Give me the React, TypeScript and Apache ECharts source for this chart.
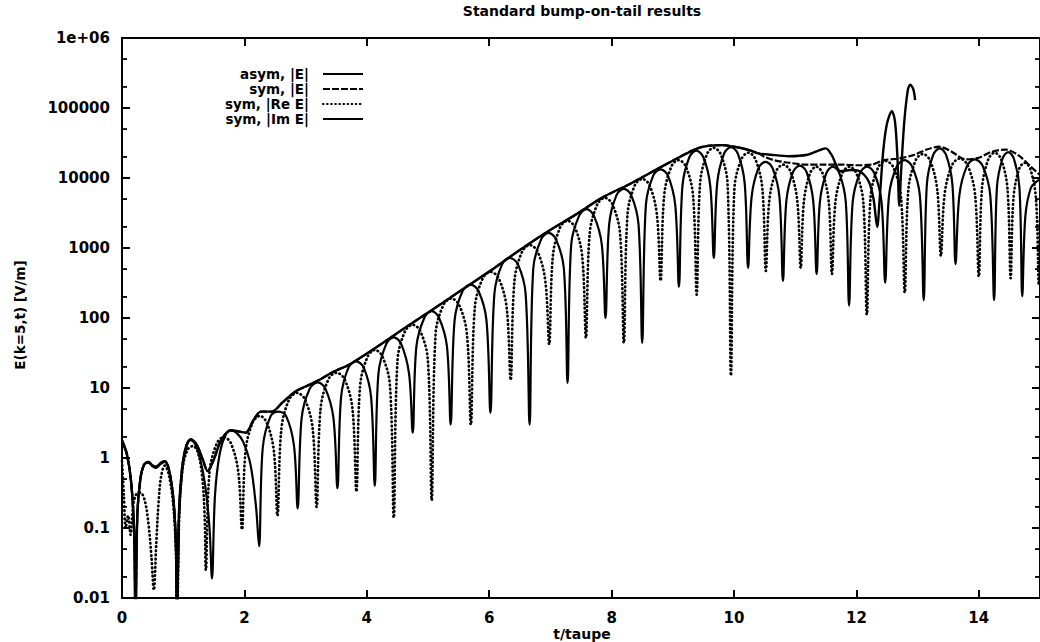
import React, { useEffect, useRef } from 'react';
import * as echarts from 'echarts';

const titleText = 'Standard bump-on-tail results';
const xAxisName = 't/taupe';
const yAxisName = 'E(k=5,t) [V/m]';
const yTickLabels = ['0.01', '0.1', '1', '10', '100', '1000', '10000', '100000', '1e+06'];
const minorTickValues = [0.02, 0.05, 0.2, 0.5, 2, 5, 20, 50, 200, 500, 2000, 5000, 20000, 50000, 200000, 500000];
const legendNames = ['asym, |E|', 'sym, |E|', 'sym, |Re E|', 'sym, |Im E|'];

// |E| common to asym and sym runs up to t ~ 10.4
const envelopeShared: number[][] = [
  [0, 1.8], [0.08, 1.15], [0.15, 0.45], [0.2, 0.08], [0.22, 0.004], [0.25, 0.15], [0.3, 0.5], [0.36, 0.8],
  [0.43, 0.88], [0.5, 0.78], [0.56, 0.75], [0.63, 0.85], [0.7, 0.9], [0.77, 0.67], [0.84, 0.26], [0.88, 0.06],
  [0.9, 0.004], [0.93, 0.15], [0.98, 0.7], [1.05, 1.5], [1.12, 1.85], [1.22, 1.55], [1.32, 0.95], [1.4, 0.65],
  [1.5, 0.95], [1.62, 1.8], [1.78, 2.5], [1.9, 2.4], [2.02, 2.3], [2.15, 3.5], [2.27, 4.6], [2.45, 4.6],
  [2.62, 6.2], [2.84, 9.0], [3.0, 10.5], [3.22, 13], [3.45, 17], [3.71, 21.5], [4.0, 31], [4.31, 47],
  [4.7, 80], [5.07, 131], [5.5, 235], [6.0, 460], [6.43, 850], [6.9, 1600], [7.4, 2950], [7.84, 5200],
  [8.33, 8500], [8.88, 15500], [9.43, 27000], [9.8, 29500], [10.1, 27000], [10.25, 25000], [10.4, 22500],
];

const asymTail: number[][] = [
  [10.6, 21500], [10.9, 20500], [11.2, 21500], [11.4, 25000], [11.5, 26500], [11.6, 21000], [11.74, 12500],
  [11.9, 13000], [12.05, 12500], [12.2, 9000], [12.28, 5000], [12.34, 2000], [12.38, 5000], [12.44, 25000],
  [12.5, 60000], [12.58, 90000], [12.63, 65000], [12.67, 20000], [12.7, 4000], [12.73, 12000], [12.78, 60000],
  [12.84, 180000], [12.88, 215000], [12.93, 185000], [12.96, 130000],
];

const symTail: number[][] = [
  [10.5, 20000], [10.65, 18000], [10.9, 16500], [11.2, 15500], [11.5, 15500], [11.8, 15500], [12.0, 15200],
  [12.25, 15500], [12.45, 18000], [12.7, 19000], [12.95, 21500], [13.15, 25500], [13.35, 28000], [13.55, 24000],
  [13.78, 18500], [14.0, 19500], [14.2, 23500], [14.44, 25500], [14.65, 21000], [14.85, 14500], [15.0, 11000],
];

const imE: number[][] = [
  [0, 1.7], [0.08, 1.1], [0.15, 0.45], [0.2, 0.08], [0.22, 0.004], [0.25, 0.15], [0.3, 0.5], [0.36, 0.8],
  [0.43, 0.86], [0.5, 0.76], [0.56, 0.72], [0.63, 0.82], [0.7, 0.88], [0.77, 0.65], [0.84, 0.25], [0.88, 0.06],
  [0.9, 0.004], [0.93, 0.12], [0.98, 0.6], [1.05, 1.4], [1.12, 1.8], [1.2, 1.55], [1.28, 0.95], [1.36, 0.4],
  [1.43, 0.1], [1.47, 0.019],
  [1.52, 0.3], [1.6, 1.2], [1.7, 2.2], [1.78, 2.45], [1.88, 2.25], [1.98, 1.7], [2.1, 0.8], [2.19, 0.2], [2.24, 0.055],
  [2.3, 1.4], [2.43, 4.0], [2.55, 4.6], [2.68, 4.0], [2.81, 1.5], [2.87, 0.19],
  [2.935, 3.7], [3.065, 9.7], [3.2, 12], [3.325, 9.7], [3.455, 3.7], [3.52, 0.37],
  [3.58, 7.4], [3.7, 19.5], [3.825, 24], [3.95, 19.5], [4.07, 7.4], [4.13, 0.4],
  [4.19, 16], [4.32, 43], [4.44, 53], [4.56, 43], [4.69, 16], [4.75, 2.3],
  [4.81, 39], [4.94, 101], [5.06, 125], [5.18, 101], [5.31, 39], [5.37, 3.0],
  [5.435, 93], [5.565, 243], [5.695, 300], [5.825, 243], [5.955, 93], [6.02, 4.4],
  [6.085, 223], [6.21, 583], [6.34, 720], [6.47, 583], [6.595, 223], [6.66, 3.0],
  [6.72, 510], [6.85, 1340], [6.97, 1650], [7.09, 1340], [7.22, 510], [7.28, 11.8],
  [7.34, 1120], [7.47, 2900], [7.59, 3600], [7.71, 2900], [7.84, 1120], [7.9, 100],
  [7.96, 2170], [8.08, 5700], [8.2, 7000], [8.32, 5700], [8.44, 2170], [8.5, 44],
  [8.56, 4100], [8.68, 10800], [8.8, 13300], [8.92, 10800], [9.04, 4100], [9.1, 280],
  [9.157, 7600], [9.27, 19800], [9.385, 24500], [9.5, 19800], [9.613, 7600], [9.67, 720],
  [9.726, 8500], [9.838, 22300], [9.95, 27500], [10.062, 22300], [10.174, 8500], [10.23, 520],
  [10.287, 5300], [10.4, 13800], [10.515, 17000], [10.63, 13800], [10.743, 5300], [10.8, 340],
  [10.855, 4650], [10.965, 12200], [11.075, 15000], [11.185, 12200], [11.295, 4650], [11.35, 425],
  [11.403, 4500], [11.509, 11700], [11.615, 14500], [11.721, 11700], [11.827, 4500], [11.88, 150],
  [11.939, 4500], [12.057, 11700], [12.175, 14500], [12.293, 11700], [12.411, 4500], [12.47, 320],
  [12.533, 5600], [12.659, 14600], [12.785, 18000], [12.911, 14600], [13.037, 5600], [13.1, 180],
  [13.152, 8200], [13.256, 21500], [13.36, 26500], [13.464, 21500], [13.568, 8200], [13.62, 590],
  [13.683, 5700], [13.809, 15000], [13.935, 18500], [14.061, 15000], [14.187, 5700], [14.25, 180],
  [14.296, 7300], [14.388, 19000], [14.48, 23500], [14.572, 19000], [14.664, 7300], [14.71, 205],
  [14.76, 2800], [14.85, 7200], [14.95, 9000], [15.0, 9500],
];

const reE: number[][] = [
  [0, 0.9], [0.03, 0.3], [0.06, 0.1], [0.1, 0.15], [0.14, 0.08], [0.18, 0.2], [0.23, 0.3], [0.3, 0.32],
  [0.37, 0.25], [0.43, 0.12], [0.48, 0.04], [0.52, 0.013], [0.56, 0.06], [0.6, 0.25], [0.64, 0.55], [0.7, 0.78],
  [0.76, 0.6], [0.83, 0.25], [0.88, 0.05], [0.9, 0.004], [0.94, 0.2], [1.0, 0.8], [1.08, 1.35], [1.16, 1.48],
  [1.24, 1.2], [1.31, 0.55], [1.35, 0.15], [1.37, 0.025],
  [1.429, 0.62], [1.547, 1.6], [1.665, 2.0], [1.783, 1.6], [1.901, 0.62], [1.96, 0.095],
  [2.018, 1.24], [2.134, 3.2], [2.25, 4.0], [2.366, 3.2], [2.482, 1.24], [2.54, 0.15],
  [2.604, 2.6], [2.732, 6.9], [2.86, 8.5], [2.988, 6.9], [3.116, 2.6], [3.18, 0.2],
  [3.245, 5.1], [3.375, 13.4], [3.505, 16.5], [3.635, 13.4], [3.765, 5.1], [3.83, 0.33],
  [3.891, 10.8], [4.013, 28], [4.135, 35], [4.257, 28], [4.379, 10.8], [4.44, 0.14],
  [4.502, 25], [4.626, 65], [4.75, 80], [4.874, 65], [4.998, 25], [5.06, 0.25],
  [5.124, 59], [5.252, 154], [5.38, 190], [5.508, 154], [5.636, 59], [5.7, 3.0],
  [5.765, 141], [5.895, 370], [6.025, 455], [6.155, 370], [6.285, 141], [6.35, 13],
  [6.413, 340], [6.539, 890], [6.665, 1100], [6.791, 890], [6.917, 340], [6.98, 42],
  [7.04, 760], [7.16, 1980], [7.28, 2450], [7.4, 1980], [7.52, 760], [7.58, 52],
  [7.642, 1610], [7.766, 4200], [7.89, 5200], [8.014, 4200], [8.138, 1610], [8.2, 44],
  [8.26, 3000], [8.38, 7900], [8.5, 9700], [8.62, 7900], [8.74, 3000], [8.8, 340],
  [8.859, 5600], [8.977, 14600], [9.095, 18000], [9.213, 14600], [9.331, 5600], [9.39, 215],
  [9.446, 8400], [9.558, 21900], [9.67, 27000], [9.782, 21900], [9.894, 8400], [9.95, 15],
  [10.007, 7100], [10.121, 18600], [10.235, 23000], [10.349, 18600], [10.463, 7100], [10.52, 470],
  [10.577, 4800], [10.691, 12600], [10.805, 15500], [10.919, 12600], [11.033, 4800], [11.09, 520],
  [11.141, 4500], [11.243, 11700], [11.345, 14500], [11.447, 11700], [11.549, 4500], [11.6, 425],
  [11.657, 4500], [11.771, 11700], [11.885, 14500], [11.999, 11700], [12.113, 4500], [12.17, 112],
  [12.232, 5400], [12.356, 14200], [12.48, 17500], [12.604, 14200], [12.728, 5400], [12.79, 230],
  [12.849, 6800], [12.967, 17800], [13.085, 22000], [13.203, 17800], [13.321, 6800], [13.38, 770],
  [13.442, 5900], [13.566, 15400], [13.69, 19000], [13.814, 15400], [13.938, 5900], [14.0, 390],
  [14.052, 7100], [14.156, 18600], [14.26, 23000], [14.364, 18600], [14.468, 7100], [14.52, 370],
  [14.566, 5100], [14.658, 13400], [14.75, 16500], [14.842, 13400], [14.934, 5100], [14.98, 300], [15.0, 2500],
];

const FONT = '"DejaVu Sans", "Liberation Sans", sans-serif';
const INK = '#000';

const lineStyles: any[] = [
  { type: 'solid', width: 2.4 },
  { type: [7, 2], width: 2.2 },
  { type: [0.5, 3.6], width: 2.7, cap: 'round' },
  { type: 'solid', width: 2.2 },
];

export default function App() {
  const ref = useRef<HTMLDivElement>(null);
  useEffect(() => {
    if (!ref.current) return;
    const chart = echarts.init(ref.current, undefined, { renderer: 'svg' });
    const gridLeft = 122;
    const gridTop = 38;
    const gridW = 919;
    const gridH = 560;

    const legendX = 309;
    const legendY0 = 74;
    const legendDy = 15;
    const legendGraphics: any[] = [];
    legendNames.forEach((name, i) => {
      const y = legendY0 + i * legendDy;
      legendGraphics.push({
        type: 'text', x: legendX, y,
        style: { text: name, font: `bold 13.5px ${FONT}`, fill: INK, align: 'right', verticalAlign: 'middle' },
      });
      const ls = lineStyles[i];
      legendGraphics.push({
        type: 'line',
        shape: { x1: legendX + 14, y1: y, x2: legendX + 54, y2: y },
        style: {
          stroke: INK, lineWidth: Math.min(ls.width, 2.2),
          lineDash: ls.type === 'solid' ? null : ls.type,
          lineCap: ls.cap || 'butt',
        },
      });
    });

    const axisLabelStyle = { color: INK, fontFamily: FONT, fontWeight: 'bold', fontSize: 15 };
    const xAxisBase = {
      type: 'value', min: 0, max: 15, interval: 2,
      splitLine: { show: false },
      axisLine: { show: true, onZero: false, lineStyle: { color: INK, width: 2 } },
      axisTick: { show: true, inside: true, length: 8, lineStyle: { color: INK, width: 2 } },
    };
    const yAxisBase = {
      type: 'log', logBase: 10, min: 0.01, max: 1000000,
      splitLine: { show: false },
      axisLine: { show: true, onZero: false, lineStyle: { color: INK, width: 2 } },
      axisTick: { show: true, inside: true, length: 8, lineStyle: { color: INK, width: 2 } },
    };

    const option: any = {
      animation: false,
      backgroundColor: '#fff',
      grid: { left: gridLeft, top: gridTop, width: gridW, height: gridH, containLabel: false },
      xAxis: [
        {
          ...xAxisBase, position: 'bottom',
          axisLabel: { ...axisLabelStyle, margin: 12, showMaxLabel: false, formatter: (v: number) => String(v) },
        },
        { ...xAxisBase, position: 'top', axisLabel: { show: false } },
      ],
      yAxis: [
        {
          ...yAxisBase, position: 'left',
          axisLabel: {
            ...axisLabelStyle, margin: 12,
            formatter: (v: number) => yTickLabels[Math.round(Math.log10(v)) + 2] ?? '',
          },
        },
        { ...yAxisBase, position: 'right', axisLabel: { show: false } },
      ],
      graphic: [
        {
          type: 'text', x: 582, y: 11,
          style: { text: titleText, font: `bold 14px ${FONT}`, fill: INK, align: 'center', verticalAlign: 'middle' },
        },
        {
          type: 'text', x: 582, y: 634,
          style: { text: xAxisName, font: `bold 14px ${FONT}`, fill: INK, align: 'center', verticalAlign: 'middle' },
        },
        {
          type: 'text', x: 20, y: 315, rotation: Math.PI / 2,
          style: { text: yAxisName, font: `bold 13.5px ${FONT}`, fill: INK, align: 'center', verticalAlign: 'middle' },
        },
        ...legendGraphics,
      ],
      series: [
        {
          name: legendNames[2], type: 'line', data: reE, showSymbol: false, clip: true, silent: true,
          smooth: 0.35, lineStyle: { color: INK, ...lineStyles[2] }, z: 2,
        },
        {
          name: legendNames[3], type: 'line', data: imE, showSymbol: false, clip: true, silent: true,
          smooth: 0.35, lineStyle: { color: INK, ...lineStyles[3] }, z: 3,
        },
        {
          name: legendNames[1], type: 'line', data: envelopeShared.concat(symTail), showSymbol: false, clip: true, silent: true,
          smooth: 0.3, lineStyle: { color: INK, ...lineStyles[1] }, z: 4,
        },
        {
          name: legendNames[0], type: 'line', data: envelopeShared.concat(asymTail), showSymbol: false, clip: true, silent: true,
          smooth: 0.3, lineStyle: { color: INK, ...lineStyles[0] }, z: 5,
        },
        {
          type: 'custom', silent: true, clip: false, z: 6,
          data: minorTickValues.map((v) => [0, v]),
          renderItem: (params: any, api: any) => {
            const v = api.value(1);
            const l = api.coord([0, v]);
            const r = api.coord([15, v]);
            return {
              type: 'group',
              children: [
                { type: 'line', shape: { x1: l[0], y1: l[1], x2: l[0] + 5, y2: l[1] }, style: { stroke: INK, lineWidth: 1.8 } },
                { type: 'line', shape: { x1: r[0], y1: r[1], x2: r[0] - 5, y2: r[1] }, style: { stroke: INK, lineWidth: 1.8 } },
              ],
            };
          },
        },
      ],
    };
    chart.setOption(option);
    return () => chart.dispose();
  }, []);
  return (
    <div
      ref={ref}
      style={{ position: 'fixed', left: 0, top: 0, width: 1040, height: 642, background: '#fff' }}
    />
  );
}
